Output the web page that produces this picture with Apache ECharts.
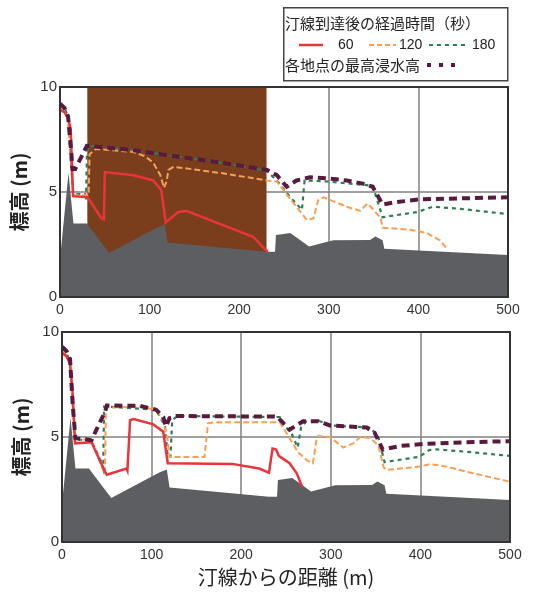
<!DOCTYPE html>
<html><head><meta charset="utf-8">
<script src="https://cdn.jsdelivr.net/npm/echarts@6/dist/echarts.min.js"></script>
<style>html,body{margin:0;padding:0;background:#fff}#c{width:535px;height:593px}</style>
</head><body><div id="c"></div>
<script>
// ---------- data ----------
const xTicks = [0, 100, 200, 300, 400, 500];
const yTicks = [0, 5, 10];
const xTitle = '汀線からの距離 (m)';
const yTitle = '標高 (m)';
const legendTitle = '汀線到達後の経過時間（秒）';
const timeLabels = ['60', '120', '180'];
const maxLabel = '各地点の最高浸水高';

// shared ground profile (distance m, elevation m)
const terrain = [[0,1.8],[9.5,5.9],[15,3.5],[30,3.5],[55,2.1],[108,3.3],[117,3.45],[120,2.6],[231,2.15],[240,2.15],[241,2.95],[257,3.05],[278,2.4],[305,2.7],[346,2.72],[352,2.88],[360,2.7],[362,2.3],[500,2.0]];

// upper panel
const topZone = [30.5, 230.5];
const top60 = [[0,8.9],[5,8.8],[9,8.5],[12,8.0],[14.5,4.8],[31,4.75],[46,3.75],[49,3.7],[50,5.95],[82,5.8],[104,5.55],[113,5.1],[118,3.55],[132,4.05],[141,4.1],[216,2.85],[227,2.35],[232,2.15]];
const top120 = [[0,9.0],[5,8.8],[9,8.5],[12,6.5],[15,4.85],[32,4.85],[33,6.8],[40,7.05],[82,6.9],[95,6.7],[104,6.4],[112,5.8],[116,5.2],[119,5.5],[121,6.05],[127,6.2],[180,5.9],[231,5.55],[242,5.5],[260,4.5],[276,3.65],[283,3.75],[288,4.6],[294,4.75],[320,4.3],[335,4.1],[343,4.45],[349,4.2],[358,3.75],[360,3.3],[391,3.2],[409,3.05],[424,2.7],[433,2.25]];
const top180 = [[0,9.2],[5,9.0],[9,8.6],[12,6.5],[15,4.9],[28,4.9],[29,4.6],[30,6.7],[32,7.2],[80,7.0],[120,6.75],[180,6.4],[231,6.0],[242,5.55],[256,4.8],[270,4.15],[273,5.55],[298,5.5],[349,5.3],[360,3.8],[399,4.05],[416,4.3],[446,4.2],[500,3.95]];
const topMax = [[0,9.2],[5,9.0],[9,8.6],[12,7.2],[14,6.1],[17,6.1],[23,6.6],[30,7.2],[80,7.0],[120,6.75],[180,6.4],[231,6.05],[242,5.8],[253,5.25],[264,5.55],[279,5.7],[298,5.65],[320,5.55],[338,5.4],[349,5.25],[360,4.4],[372,4.5],[402,4.65],[450,4.7],[500,4.75]];

// lower panel
const bot60 = [[0,9.0],[5,8.85],[9,8.5],[12,7.0],[14.5,4.7],[33,4.75],[48,3.35],[50,3.2],[72,3.5],[73,3.4],[75,3.45],[76,5.8],[80,5.85],[102,5.6],[113,5.25],[118,3.75],[190,3.72],[220,3.5],[231,3.3],[235,4.45],[239,4.4],[242,4.1],[254,3.75],[262,3.27],[268,2.63]];
const bot120 = [[0,9.1],[5,8.9],[9,8.5],[12,6.5],[15,4.9],[33,4.85],[46,3.4],[48,3.25],[49,6.4],[87,6.45],[105,6.3],[113,5.75],[118,4.85],[120,4.05],[159,4.05],[163,5.65],[170,5.7],[243,5.7],[254,4.95],[263,4.3],[273,3.9],[280,3.75],[284,4.85],[286,5.05],[299,5.0],[314,4.5],[325,4.7],[333,5.0],[344,4.95],[353,4.6],[359,3.55],[362,3.43],[399,3.59],[411,3.71],[429,3.59],[459,3.27],[500,2.87]];
const bot180 = [[0,9.2],[5,9.0],[9,8.6],[12,6.5],[15,4.9],[33,4.8],[44,3.8],[46,3.5],[47,6.45],[105,6.3],[115,5.5],[118,4.05],[121,4.05],[123,5.8],[129,6.0],[243,5.95],[249,5.5],[256,5.2],[263,4.5],[267,5.5],[273,5.75],[288,5.75],[299,5.55],[344,5.45],[353,5.0],[360,3.8],[399,4.06],[410,4.38],[418,4.41],[451,4.3],[500,4.1]];
const botMax = [[0,9.3],[5,9.1],[9,8.7],[12,6.5],[15,4.95],[33,4.85],[39,5.4],[48,6.2],[50,6.5],[87,6.48],[105,6.3],[113,5.95],[116,5.5],[120,5.9],[128,6.0],[240,5.97],[254,5.35],[269,5.75],[286,5.75],[299,5.55],[340,5.45],[349,5.2],[358,4.4],[377,4.57],[403,4.67],[451,4.75],[500,4.8]];

// ---------- styles ----------
const C = {red:'#e8353b', orange:'#f5a058', green:'#2f7d55', purple:'#5a1a40', ground:'#5c5e61', zone:'#7a3e1d', axis:'#333', grid:'#808080'};
const FONT = 'Liberation Sans, Arial, sans-serif';
const JFONT = 'Noto Sans CJK JP, sans-serif';
const grids = [
  {left:60, top:87, width:448, height:210},
  {left:62, top:332, width:448, height:210}
];

const xAxes = [], yAxes = [];
grids.forEach((g, i) => {
  const base = {gridIndex:i, type:'value', min:xTicks[0], max:xTicks[xTicks.length-1], interval:100};
  xAxes.push(Object.assign({}, base, {position:'bottom', z:10,
    axisLine:{show:true, onZero:false, lineStyle:{color:C.axis, width:2}}, axisTick:{show:false},
    axisLabel:{fontSize:14, color:'#333', margin:6, fontFamily:FONT}, splitLine:{show:false},
    name: i === 1 ? xTitle : '', nameLocation:'middle', nameGap:25,
    nameTextStyle:{fontSize:20, color:'#222', fontFamily:JFONT}}));
  xAxes.push(Object.assign({}, base, {position:'top', z:10,
    axisLine:{show:true, onZero:false, lineStyle:{color:C.axis, width:2}}, axisTick:{show:false},
    axisLabel:{show:false}, splitLine:{show:false}}));
  xAxes.push(Object.assign({}, base, {position:'bottom', z:0,
    axisLine:{show:false}, axisTick:{show:false}, axisLabel:{show:false},
    splitLine:{show:true, lineStyle:{color:C.grid, width:1.5}}}));
  const yb = {gridIndex:i, type:'value', min:yTicks[0], max:yTicks[yTicks.length-1], interval:5};
  yAxes.push(Object.assign({}, yb, {position:'left', z:10,
    axisLine:{show:true, onZero:false, lineStyle:{color:C.axis, width:2}}, axisTick:{show:false},
    axisLabel:{fontSize:15, color:'#333', margin:3, fontFamily:FONT}, splitLine:{show:false},
    name:yTitle, nameLocation:'middle', nameRotate:90, nameGap:28,
    nameTextStyle:{fontSize:20, color:'#222', fontFamily:JFONT, fontWeight:'bold'}}));
  yAxes.push(Object.assign({}, yb, {position:'right', z:10,
    axisLine:{show:true, onZero:false, lineStyle:{color:C.axis, width:2}}, axisTick:{show:false},
    axisLabel:{show:false}, splitLine:{show:false}}));
  yAxes.push(Object.assign({}, yb, {position:'left', z:0,
    axisLine:{show:false}, axisTick:{show:false}, axisLabel:{show:false},
    splitLine:{show:true, lineStyle:{color:C.grid, width:1.5}}}));
});

function line(gi, data, color, width, dash, z) {
  return {type:'line', xAxisIndex:gi*3, yAxisIndex:gi*3, data:data, symbol:'none', showSymbol:false,
    z:z, animation:false, silent:true,
    lineStyle:{color:color, width:width, type:dash || 'solid', cap:'butt', join:'miter'}};
}
function ground(gi) {
  return {type:'line', xAxisIndex:gi*3, yAxisIndex:gi*3, data:terrain, symbol:'none', z:2, animation:false, silent:true,
    lineStyle:{width:0}, areaStyle:{color:C.ground, opacity:1, origin:'start'}};
}

const series = [
  {type:'line', xAxisIndex:0, yAxisIndex:0, data:[], z:1, animation:false, silent:true,
    markArea:{silent:true, itemStyle:{color:C.zone, opacity:1},
      data:[[{xAxis:topZone[0], yAxis:yTicks[0]}, {xAxis:topZone[1], yAxis:yTicks[2]}]]}},
  ground(0),
  line(0, top180, C.green, 2.2, [4,4], 3),
  line(0, top120, C.orange, 2, [6,3], 4),
  line(0, top60, C.red, 2.5, null, 5),
  line(0, topMax, C.purple, 4, [8,5], 6),
  ground(1),
  line(1, bot180, C.green, 2.2, [4,4], 3),
  line(1, bot120, C.orange, 2, [6,3], 4),
  line(1, bot60, C.red, 2.5, null, 5),
  line(1, botMax, C.purple, 4, [8,5], 6)
];

const legendY1 = 45, legendY2 = 65;
const graphic = [
  {type:'rect', left:283, top:7, z:20, shape:{width:224, height:73}, style:{fill:'#fff', stroke:'#444', lineWidth:1.5}},
  {type:'text', x:285, y:23, z:21, style:{text:legendTitle, font:'15px '+JFONT, fill:'#222', verticalAlign:'middle'}},
  {type:'line', z:21, shape:{x1:299, y1:legendY1, x2:323, y2:legendY1}, style:{stroke:C.red, lineWidth:2.5}},
  {type:'text', x:338, y:legendY1, z:21, style:{text:timeLabels[0], font:'14px '+FONT, fill:'#222', verticalAlign:'middle'}},
  {type:'line', z:21, shape:{x1:369, y1:legendY1, x2:396, y2:legendY1}, style:{stroke:C.orange, lineWidth:2, lineDash:[5,3]}},
  {type:'text', x:399, y:legendY1, z:21, style:{text:timeLabels[1], font:'14px '+FONT, fill:'#222', verticalAlign:'middle'}},
  {type:'line', z:21, shape:{x1:429, y1:legendY1, x2:468, y2:legendY1}, style:{stroke:C.green, lineWidth:2, lineDash:[4,4]}},
  {type:'text', x:472, y:legendY1, z:21, style:{text:timeLabels[2], font:'14px '+FONT, fill:'#222', verticalAlign:'middle'}},
  {type:'text', x:285, y:legendY2, z:21, style:{text:maxLabel, font:'15px '+JFONT, fill:'#222', verticalAlign:'middle'}},
  {type:'line', z:21, shape:{x1:427, y1:legendY2, x2:462, y2:legendY2}, style:{stroke:C.purple, lineWidth:4, lineDash:[4,8]}}
];

const chart = echarts.init(document.getElementById('c'), null, {renderer:'canvas'});
chart.setOption({animation:false, backgroundColor:'#fff', grid:grids, xAxis:xAxes, yAxis:yAxes, series:series, graphic:graphic});
</script></body></html>
